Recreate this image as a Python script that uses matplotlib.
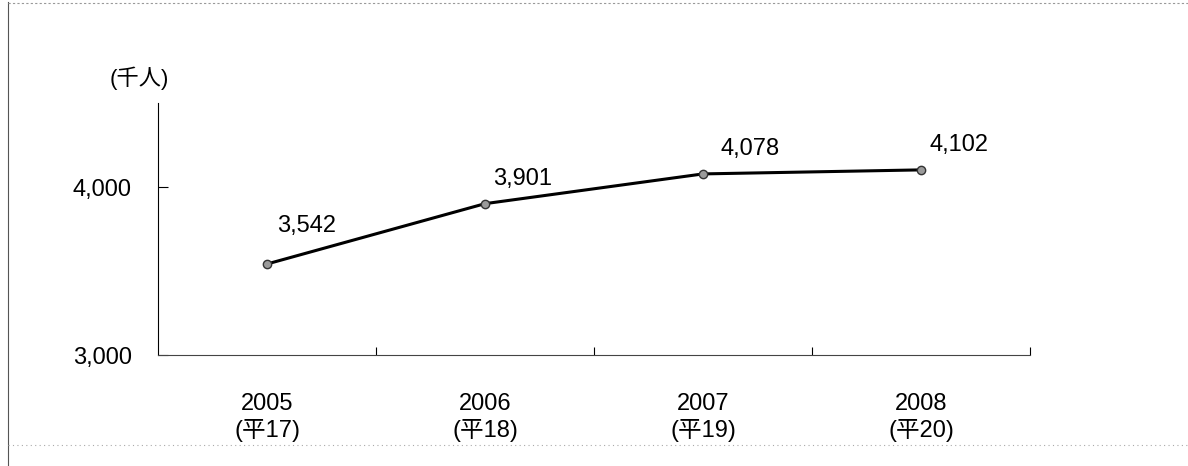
import matplotlib
matplotlib.use('Agg')
import matplotlib.pyplot as plt
from matplotlib.lines import Line2D

plt.rcParams['font.family'] = ['Liberation Sans', 'Noto Sans CJK JP', 'DejaVu Sans']

# data
years = ['2005', '2006', '2007', '2008']
heisei = ['(平17)', '(平18)', '(平19)', '(平20)']
values = [3542, 3901, 4078, 4102]
value_labels = ['3,542', '3,901', '4,078', '4,102']
y_ticks = [3000, 4000]
y_tick_labels = ['3,000', '4,000']
unit_label = '(千人)'

# label offsets in pixels (dx, dy)
label_offsets = [(40, 38), (38, 25), (47, 25), (38, 25)]

fig = plt.figure(figsize=(11.88, 4.66), dpi=100)
ax = fig.add_axes([0.133, 0.238, 0.734, 0.541])

x = list(range(len(values)))
ax.plot(x, values, color='black', lw=2.2, zorder=3)
ax.plot(x, values, ls='none', marker='o', ms=6, mfc='#9a9a9a', mec='#333333',
        mew=1.0, zorder=4)

for i, (v, lab) in enumerate(zip(values, value_labels)):
    dx, dy = label_offsets[i]
    ax.annotate(lab, (i, v), xytext=(dx, dy), textcoords='offset pixels',
                ha='center', va='center', fontsize=17, color='black')

ax.set_xlim(-0.5, len(values) - 0.5)
ax.set_ylim(3000, 4500)

ax.set_yticks(y_ticks)
ax.set_yticklabels(y_tick_labels, fontsize=17)
ax.tick_params(axis='y', direction='in', length=7, width=0.8, pad=19)

ax.set_xticks(x)
ax.set_xticklabels([f'{a}\n{b}' for a, b in zip(years, heisei)], fontsize=17,
                   linespacing=1.25)
ax.tick_params(axis='x', which='major', length=0, pad=27)
ax.set_xticks([i + 0.5 for i in x], minor=True)
ax.tick_params(axis='x', which='minor', direction='in', length=6, width=0.8)

for s in ['top', 'right']:
    ax.spines[s].set_visible(False)
ax.spines['left'].set_linewidth(0.8)
ax.spines['bottom'].set_linewidth(0.8)
ax.spines['bottom'].set_color('#444444')

ax.text(-0.022, 1.1, unit_label, transform=ax.transAxes, fontsize=16,
        ha='center', va='center')

# scanned page frame
fig.add_artist(Line2D([0.007, 0.007], [0.0, 0.995], transform=fig.transFigure,
                      color='#555555', lw=0.8))
fig.add_artist(Line2D([0.007, 1.0], [0.994, 0.994], transform=fig.transFigure,
                      color='#999999', lw=0.8, ls=(0, (2, 2))))
fig.add_artist(Line2D([0.007, 1.0], [0.045, 0.045], transform=fig.transFigure,
                      color='#aaaaaa', lw=0.8, ls=(0, (1, 3))))

fig.savefig('out.png', dpi=100)
